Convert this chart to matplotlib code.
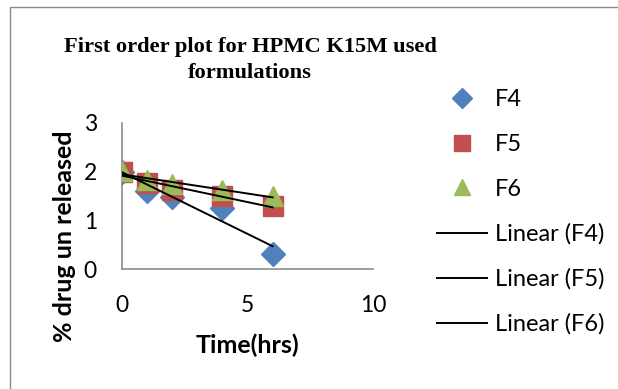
import numpy as np
import matplotlib
matplotlib.use("Agg")
import matplotlib.pyplot as plt
from matplotlib.lines import Line2D
from matplotlib.patches import Rectangle

# time points (hrs) and log % drug unreleased
time_hrs = [0, 1, 2, 4, 6]
f4 = [2.00, 1.61, 1.48, 1.26, 0.30]
f5 = [2.00, 1.77, 1.62, 1.50, 1.29]
f6 = [2.01, 1.83, 1.74, 1.62, 1.50]

series_names = ["F4", "F5", "F6"]
series_vals = [f4, f5, f6]
colors = ["#4F81BD", "#C0504D", "#9BBB59"]
markers = ["D", "s", "^"]
msizes = [12, 14, 14]

plt.rcParams["font.family"] = ["Lato", "DejaVu Sans"]

fig = plt.figure(figsize=(6.18, 3.89), dpi=100)
ax = fig.add_axes([122 / 618, 1 - 269 / 389, 251 / 618, 146 / 389])

# chart-area border (only left & top show in the crop)
fig.patches.append(Rectangle((9.5 / 618, -0.1), 1.2, 1 - 7.5 / 389 + 0.1,
                             transform=fig.transFigure, fill=False,
                             edgecolor="#8C8C8C", lw=1.0))

x = np.array(time_hrs)
for name, vals, c, m, ms in zip(series_names, series_vals, colors, markers, msizes):
    ax.plot(x, vals, linestyle="none", marker=m, ms=ms, color=c,
            markeredgecolor=c, zorder=3)

# linear trendlines
for vals in series_vals:
    k, b = np.polyfit(x, vals, 1)
    xs = np.array([x.min(), x.max()])
    ax.plot(xs, k * xs + b, color="black", lw=1.4, zorder=4)

ax.set_xlim(0, 10)
ax.set_ylim(0, 3)
ax.set_xticks([0, 5, 10])
ax.set_yticks([0, 1, 2, 3])
ax.tick_params(length=0, labelsize=16.5)
ax.tick_params(axis="x", pad=19)
ax.tick_params(axis="y", pad=18)
for s in ["top", "right"]:
    ax.spines[s].set_visible(False)
for s in ["left", "bottom"]:
    ax.spines[s].set_color("#8C8C8C")
    ax.spines[s].set_linewidth(1.2)

fig.text(250 / 618, 1 - 60 / 389, "First order plot for HPMC K15M used\nformulations",
         ha="center", va="center", fontsize=16.2, fontweight="bold",
         family="Liberation Serif", linespacing=1.4)
fig.text(247 / 618, 1 - 345 / 389, "Time(hrs)", ha="center", va="center",
         fontsize=18, fontweight="bold")
fig.text(64 / 618, 1 - 236 / 389, "% drug un released", ha="center", va="center",
         rotation=90, fontsize=18, fontweight="bold")

handles = []
for name, c, m, ms in zip(series_names, colors, markers, msizes):
    handles.append(Line2D([], [], linestyle="none", marker=m, ms=ms * 0.85,
                          color=c, label=name))
for name in series_names:
    handles.append(Line2D([], [], color="black", lw=1.4, label=f"Linear ({name})"))

fig.legend(handles=handles, loc="upper left",
           bbox_to_anchor=(428 / 618, 1 - 80 / 389), frameon=False,
           fontsize=17, handlelength=2.1, handletextpad=0.35,
           labelspacing=1.0, borderaxespad=0)

fig.savefig("out.png", dpi=100)
